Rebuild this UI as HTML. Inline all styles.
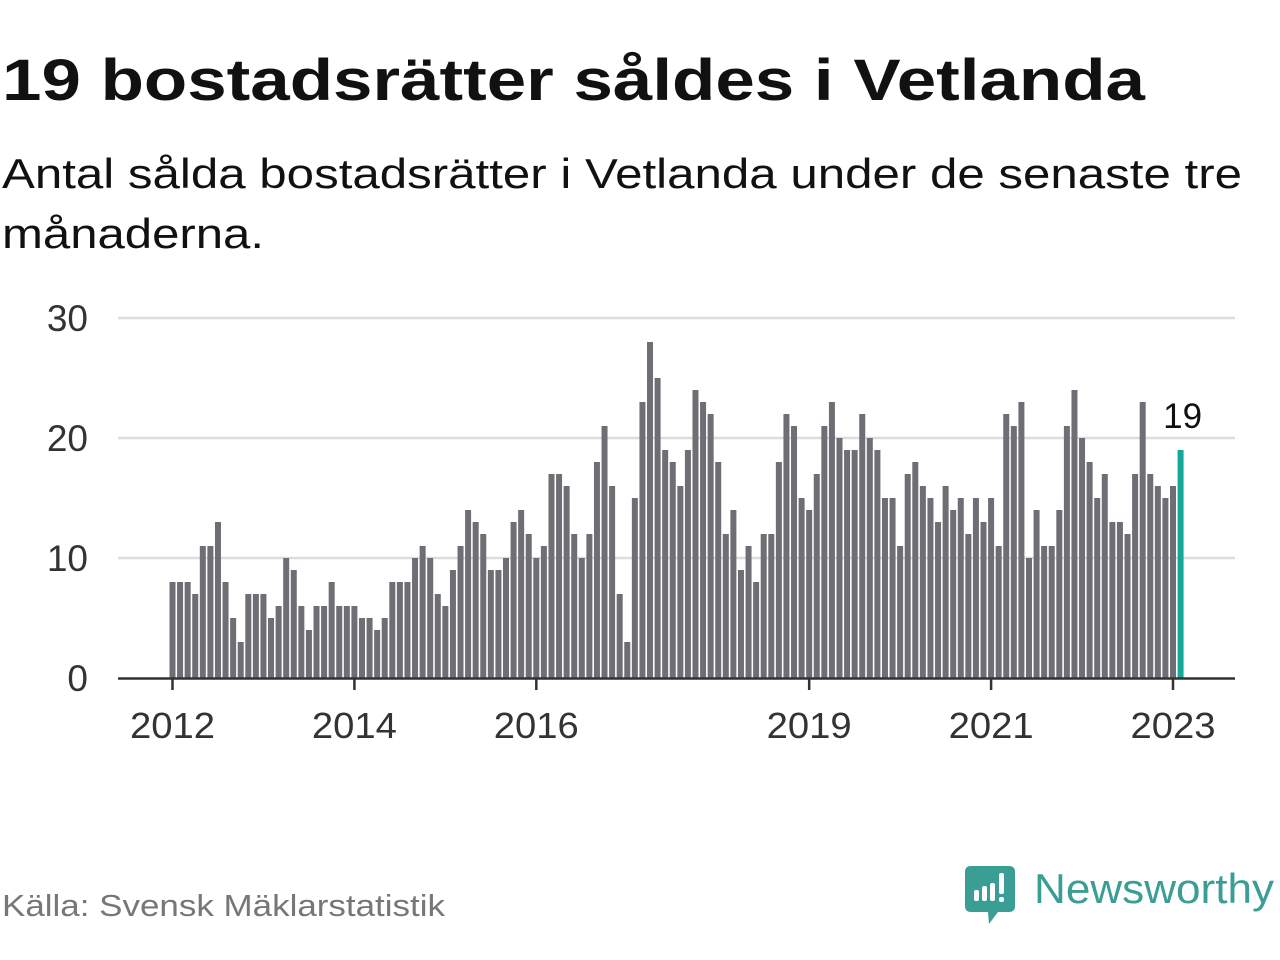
<!DOCTYPE html>
<html><head><meta charset="utf-8"><style>
html,body{margin:0;padding:0;background:#fff;}
svg{display:block;font-family:"Liberation Sans",sans-serif;}
</style></head><body>
<svg id="chart" width="1280" height="960" viewBox="0 0 1280 960">
<text x="2" y="100" font-size="58" font-weight="bold" fill="#111" textLength="1143" lengthAdjust="spacingAndGlyphs">19 bostadsrätter såldes i Vetlanda</text>
<text x="2" y="188" font-size="42" fill="#111" textLength="1240" lengthAdjust="spacingAndGlyphs">Antal sålda bostadsrätter i Vetlanda under de senaste tre</text>
<text x="2" y="248" font-size="42" fill="#111" textLength="262" lengthAdjust="spacingAndGlyphs">månaderna.</text>
<g id="grid"></g>
<g id="bars"></g>
<g id="axes"></g>
<text x="2" y="916" font-size="31" fill="#777" textLength="443" lengthAdjust="spacingAndGlyphs">Källa: Svensk Mäklarstatistik</text>
<g>
<path d="M971 866 H1009 Q1015 866 1015 872 V906 Q1015 912 1009 912 H998 L989 924 L988 912 H971 Q965 912 965 906 V872 Q965 866 971 866 Z" fill="#3a9e94"/>
<rect x="974" y="890" width="5" height="11" rx="2" fill="#fff"/>
<rect x="982" y="886" width="5" height="15" rx="2" fill="#fff"/>
<rect x="990" y="883" width="5" height="18" rx="2" fill="#fff"/>
<rect x="999" y="873" width="5" height="21" rx="2" fill="#fff"/>
<rect x="999" y="897" width="5" height="5" rx="2" fill="#fff"/>
<text x="1034" y="903" font-size="42" fill="#3a9e94" textLength="240" lengthAdjust="spacingAndGlyphs">Newsworthy</text>
</g>
</svg>
<script>
const values = [8,8,8,7,11,11,13,8,5,3,7,7,
7,5,6,10,9,6,4,6,6,8,6,6,
6,5,5,4,5,8,8,8,10,11,10,7,
6,9,11,14,13,12,9,9,10,13,14,12,
10,11,17,17,16,12,10,12,18,21,16,7,
3,15,23,28,25,19,18,16,19,24,23,22,
18,12,14,9,11,8,12,12,18,22,21,15,
14,17,21,23,20,19,19,22,20,19,15,15,
11,17,18,16,15,13,16,14,15,12,15,13,
15,11,22,21,23,10,14,11,11,14,21,24,
20,18,15,17,13,13,12,17,23,17,16,15,
16,19];
const startYear = 2012;
const xTickYears = [2012,2014,2016,2019,2021,2023];
const yTicks = [0,10,20,30];
const NS='http://www.w3.org/2000/svg';
const x = m => 172.5 + m*(1173-172.5)/132;
const y = v => 678 - v*12;
function mk(tag, attrs, parent){const e=document.createElementNS(NS,tag);for(const k in attrs)e.setAttribute(k,attrs[k]);parent.appendChild(e);return e;}
const grid=document.getElementById('grid'), bars=document.getElementById('bars'), axes=document.getElementById('axes');
yTicks.forEach(t=>{
  if(t>0){const l=mk('line',{x1:118,x2:1235,y1:y(t),y2:y(t),stroke:'#dcdcdc','stroke-width':2.5},grid);
  
  }
  const tx=mk('text',{x:88,y:y(t)+13,'font-size':37,fill:'#333','text-anchor':'end'},grid);
  tx.textContent=t;
  
  
});
values.forEach((v,i)=>{
  const last=i===values.length-1;
  const r=mk('rect',{x:x(i)-3,y:y(v),width:6,height:678-y(v),fill:last?'#16a99a':'#6f6e74'},bars);
  
  
});
const li=values.length-1;
const lbl=mk('text',{x:x(li)+2,y:y(values[li])-22,'font-size':35,fill:'#111','text-anchor':'middle'},bars);
lbl.textContent=values[li];


const ax=mk('line',{x1:118,x2:1235,y1:678.5,y2:678.5,stroke:'#333','stroke-width':2.5},axes);


xTickYears.forEach(yr=>{
  const px=x((yr-startYear)*12);
  const t=mk('line',{x1:px,x2:px,y1:678,y2:690,stroke:'#333','stroke-width':2.5},axes);
  
  
  const tx=mk('text',{x:px,y:738,'font-size':36,fill:'#333','text-anchor':'middle',textLength:85,lengthAdjust:'spacingAndGlyphs'},axes);
  tx.textContent=yr;
  
  
});
</script>
</body></html>
